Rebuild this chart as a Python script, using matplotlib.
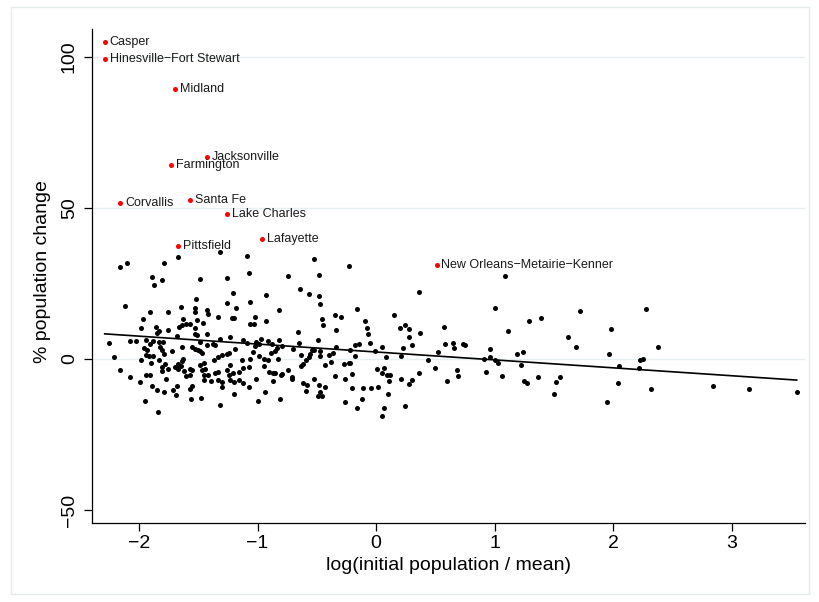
import matplotlib.pyplot as plt
from matplotlib.patches import Rectangle

plt.rcParams['font.family'] = ['Liberation Sans', 'DejaVu Sans']

# metro areas: log(initial population / mean) vs % population change
x_pts = [
    -2.16, -2.10, -1.79, -1.89, -1.81, -1.87, -2.12, -1.91, -1.76, -1.97,
    -1.98, -1.86, -1.83, -1.85, -1.76, -2.25, -2.08, -2.03, -1.94, -1.91,
    -1.88, -1.83, -1.80, -1.96, -1.93, -1.82, -1.81, -1.94, -1.92, -1.88,
    -1.79, -2.21, -1.98, -1.90, -1.83, -1.78, -1.81, -1.81, -1.76, -2.16,
    -2.08, -1.94, -1.91, -1.99, -1.89, -1.85, -1.79, -1.77, -1.95, -1.84,
    -1.67, -1.32, -1.09, -1.49, -1.26, -1.21, -1.52, -1.26, -1.65, -1.53,
    -1.53, -1.43, -1.42, -1.18, -1.33, -1.22, -1.20, -1.63, -1.64, -1.66,
    -1.60, -1.57, -1.51, -1.46, -1.53, -1.53, -1.51, -1.43, -1.68, -1.49,
    -1.38, -1.32, -1.23, -1.12, -1.09, -1.72, -1.64, -1.55, -1.53, -1.50,
    -1.47, -1.49, -1.43, -1.36, -1.19, -1.30, -1.26, -1.24, -1.33, -1.37,
    -1.63, -1.64, -1.67, -1.65, -1.67, -1.62, -1.57, -1.55, -1.49, -1.45,
    -1.47, -1.44, -1.45, -1.42, -1.57, -1.60, -1.36, -1.33, -1.26, -1.23,
    -1.24, -1.21, -1.16, -1.13, -1.12, -1.70, -1.45, -1.39, -1.33, -1.30,
    -1.23, -1.20, -1.16, -1.12, -1.30, -1.57, -1.55, -1.68, -1.71, -1.69,
    -1.56, -1.48, -1.20, -1.32,
    -0.52, -1.07, -0.48, -0.74, -0.64, -0.57, -0.93, -0.48, -0.47, -1.06,
    -0.82, -1.02, -0.93, -0.46, -0.45, -1.06, -1.03, -0.66, -0.49, -0.65,
    -0.97, -1.01, -0.99, -1.02, -0.91, -0.88, -0.82, -0.84, -0.79, -0.70,
    -1.04, -1.06, -0.99, -0.95, -0.91, -0.89, -0.85, -0.83, -0.63, -0.57,
    -0.56, -0.54, -0.52, -0.47, -0.47, -0.43, -0.59, -0.62, -0.63, -0.95,
    -1.07, -0.90, -0.87, -0.85, -0.80, -0.79, -0.74, -0.71, -0.71, -0.87,
    -1.01, -0.52, -0.62, -0.58, -0.59, -0.48, -0.47, -0.49, -0.46, -0.43,
    -1.07, -0.94, -1.00, -0.81,
    -0.23, -0.16, -0.35, -0.30, 0.15, -0.09, 0.20, 0.24, -0.34, -0.08,
    -0.07, -0.05, -0.18, -0.14, 0.05, -0.34, -0.40, -0.36, -0.22, -0.18,
    -0.01, 0.08, 0.21, 0.23, -0.38, -0.27, -0.23, -0.22, -0.35, -0.20,
    0.01, 0.05, 0.07, 0.09, 0.12, 0.11, 0.21, -0.26, -0.20, -0.11,
    -0.04, 0.02, 0.10, -0.12, -0.26, -0.16, 0.07, 0.05, 0.24,
    0.36, 1.00, 0.57, 0.28, 0.37, 0.28, 0.30, 0.58, 0.65, 0.66,
    0.73, 0.75, 0.96, 0.52, 0.44, 0.91, 0.96, 1.00, 1.03, 0.36,
    0.50, 0.68, 0.69, 0.93, 0.60, 0.30, 0.28,
    1.09, 1.11, 1.29, 1.39, 1.72, 2.28, 1.62, 1.69, 1.98, 2.38,
    1.19, 1.24, 1.22, 1.06, 1.25, 1.27, 1.37, 1.50, 1.52, 1.55,
    1.97, 2.05, 2.04, 2.22, 2.23, 2.25, 2.32, 1.95, 2.84, 3.15,
    3.55,
]
y_pts = [
    30.5, 31.6, 31.9, 27.1, 26.2, 24.4, 17.4, 15.5, 15.4, 13.2,
    10.1, 10.7, 9.2, 8.6, 9.5, 5.2, 5.9, 5.9, 6.2, 4.9,
    6.1, 5.5, 5.6, 3.6, 2.8, 4.0, 2.9, 1.2, 0.9, 1.1,
    1.6, 0.7, -0.2, -1.2, -0.4, -1.7, -2.8, -4.1, -3.2, -3.6,
    -6.1, -5.2, -5.4, -7.5, -8.8, -10.3, -10.9, -6.5, -13.8, -17.5,
    33.6, 35.4, 34.0, 26.6, 26.8, 21.9, 20.0, 18.5, 17.2, 16.7,
    15.6, 16.1, 15.0, 16.8, 13.9, 13.4, 13.5, 13.1, 11.2, 10.6,
    11.5, 11.7, 12.8, 12.0, 10.3, 8.4, 7.8, 8.4, 7.5, 5.6,
    5.1, 6.6, 7.4, 6.4, 5.3, 2.6, 4.0, 3.8, 3.4, 2.9,
    1.8, 2.5, 4.5, 4.5, 3.2, 1.2, 1.5, 1.8, 0.7, -0.2,
    0.1, -0.8, -1.8, -2.4, -3.4, -4.0, -3.2, -3.7, -1.9, -1.2,
    -3.7, -3.4, -5.2, -5.2, -5.4, -5.7, -4.8, -4.3, -3.7, -1.9,
    -5.4, -4.8, -4.3, -0.4, -3.0, -2.8, -7.1, -7.4, -7.1, -7.6,
    -7.1, -7.6, -7.1, -7.8, -9.3, -9.8, -9.0, -9.0, -10.4, -12.0,
    -13.1, -12.9, -11.5, -15.3,
    33.0, 28.6, 27.9, 27.4, 23.0, 21.5, 21.3, 20.8, 18.3, 18.7,
    16.1, 13.9, 12.5, 13.1, 11.2, 11.6, 11.7, 8.8, 6.2, 5.3,
    6.5, 5.6, 4.9, 4.2, 5.8, 5.0, 6.4, 3.6, 4.4, 3.2,
    2.3, 0.1, 0.9, 0.1, -0.3, 2.1, 2.5, 0.1, 1.2, 0.7,
    1.5, 3.1, 3.1, 2.5, 0.9, -2.1, -0.2, -1.7, -2.3, -2.3,
    -2.6, -4.3, -4.6, -4.6, -5.4, -5.0, -3.7, -6.0, -6.7, -7.4,
    -6.7, -6.5, -7.8, -8.7, -10.6, -8.7, -10.9, -12.3, -12.3, -9.3,
    -9.3, -11.1, -14.0, -13.2,
    30.8, 16.4, 14.7, 13.8, 14.7, 12.6, 10.4, 11.2, 9.5, 10.2,
    8.1, 5.4, 4.5, 4.8, 4.0, 3.8, 1.2, 1.8, 2.9, 1.0,
    2.5, 0.7, 1.0, 3.6, -1.0, -1.8, -1.5, -1.5, -5.6, -5.0,
    -3.4, -4.5, -3.1, -5.4, -5.4, -7.4, -6.6, -6.8, -9.5, -9.6,
    -9.5, -9.4, -11.7, -13.2, -14.4, -16.4, -16.4, -18.9, -15.7,
    22.2, 16.9, 10.6, 9.8, 8.7, 7.1, 4.5, 4.8, 5.4, 3.6,
    4.8, 4.5, 3.4, 2.2, -0.5, 0.0, 0.6, -0.4, -1.5, -4.5,
    -3.0, -3.8, -5.6, -4.4, -7.4, -7.1, -8.3,
    27.4, 9.1, 12.7, 13.6, 15.8, 16.4, 7.3, 4.1, 9.9, 3.8,
    1.5, 2.3, -2.1, -5.7, -7.3, -7.8, -6.1, -11.7, -7.6, -6.1,
    1.5, -2.4, -7.9, -3.0, -0.4, 0.1, -10.0, -14.4, -8.8, -10.1,
    -10.9,
]

# labelled outliers (red)
out_names = ['Casper', 'Hinesville\u2212Fort Stewart', 'Midland', 'Jacksonville',
             'Farmington', 'Corvallis', 'Santa Fe', 'Lake Charles', 'Lafayette',
             'Pittsfield', 'New Orleans\u2212Metairie\u2212Kenner']
out_x = [-2.29, -2.29, -1.70, -1.43, -1.73, -2.16, -1.57, -1.26, -0.96, -1.67, 0.51]
out_y = [105.0, 99.3, 89.2, 66.9, 64.1, 51.5, 52.5, 47.9, 39.7, 37.4, 31.1]

# linear fit end points
fit_x = [-2.29, 3.55]
fit_y = [8.3, -7.0]

x_ticks = [-2, -1, 0, 1, 2, 3]
y_ticks = [-50, 0, 50, 100]
grid_y = [0, 50, 100]


def main():
    fig = plt.figure(figsize=(8.19, 6.02), dpi=100)
    W, H = 819.0, 602.0

    # light outer frame like the Stata graph region
    fig.patches.append(Rectangle((10.5 / W, 8 / H), 798 / W, 587 / H,
                                 transform=fig.transFigure, fill=False,
                                 edgecolor='#e4ecee', linewidth=1.0))

    ax = fig.add_axes([91.7 / W, (H - 523) / H, (805 - 91.7) / W, (523 - 29) / H])

    for g in grid_y:
        ax.axhline(g, color='#e8eff1', linewidth=1.0, zorder=0)

    ax.scatter(x_pts, y_pts, s=13, c='black', linewidths=0, zorder=3)
    ax.plot(fit_x, fit_y, color='black', linewidth=1.2, zorder=2)
    ax.scatter(out_x, out_y, s=13, c='#ff0000', linewidths=0, zorder=3)
    for name, x, y in zip(out_names, out_x, out_y):
        ax.annotate(name, (x, y), xytext=(3.5, 0), textcoords='offset points',
                    ha='left', va='center', fontsize=9, color='#1a1a1a')

    ax.set_xlim(-2.40, 3.62)
    ax.set_ylim(-54.3, 109.2)
    ax.set_xticks(x_ticks)
    ax.set_yticks(y_ticks)
    ax.set_xticklabels([str(t).replace('-', '\u2212') for t in x_ticks])
    ax.set_yticklabels([str(t).replace('-', '\u2212') for t in y_ticks],
                       rotation=90, va='center')

    for side in ['top', 'right']:
        ax.spines[side].set_visible(False)
    for side in ['left', 'bottom']:
        ax.spines[side].set_linewidth(0.9)
    ax.tick_params(direction='out', length=6, width=0.9, labelsize=14)
    ax.tick_params(axis='x', pad=3)
    ax.tick_params(axis='y', pad=4)

    fig.text(448 / W, 1 - 566 / H, 'log(initial population / mean)',
             ha='center', va='center', fontsize=14)
    fig.text(43 / W, 1 - 272 / H, '% population change', rotation=90,
             ha='center', va='center', fontsize=14)

    fig.savefig('out.png', dpi=100)


if __name__ == '__main__':
    main()
